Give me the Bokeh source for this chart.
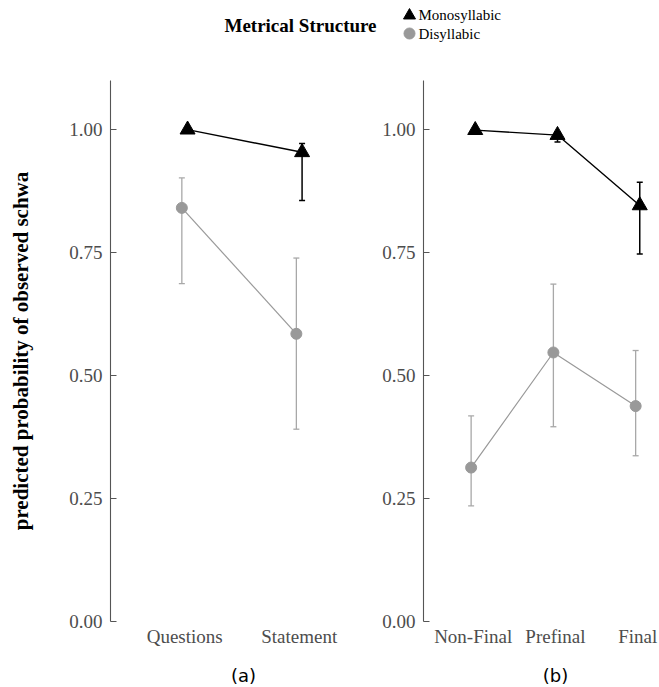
from bokeh.plotting import figure
from bokeh.layouts import column, row
from bokeh.models import Range1d, FixedTicker
from bokeh.core.properties import value
from bokeh.embed import file_html
from bokeh.resources import INLINE

# ---- data ----
a_categories = ["Questions", "Statement"]
a_mono = [1.000, 0.954]
a_mono_lo = [0.999, 0.856]
a_mono_hi = [1.000, 0.972]
a_dis = [0.841, 0.585]
a_dis_lo = [0.687, 0.391]
a_dis_hi = [0.902, 0.739]

b_categories = ["Non-Final", "Prefinal", "Final"]
b_mono = [0.999, 0.989, 0.846]
b_mono_lo = [0.998, 0.975, 0.747]
b_mono_hi = [1.000, 0.995, 0.893]
b_dis = [0.313, 0.547, 0.438]
b_dis_lo = [0.235, 0.396, 0.337]
b_dis_hi = [0.418, 0.686, 0.551]

y_ticks = [0.0, 0.25, 0.50, 0.75, 1.00]
y_tick_labels = ["0.00", "0.25", "0.50", "0.75", "1.00"]
series_names = ["Monosyllabic", "Disyllabic"]
legend_title = "Metrical Structure"
y_title = "predicted probability of observed schwa"
panel_tags = ["(a)", "(b)"]

SERIF = "Liberation Serif"
MONO_C = "black"
DIS_C = "#999999"
DIS_BAR = "#a8a8a8"
AX_C = "#555555"
LBL_C = "#4d4d4d"
DODGE = 0.025

W = 659
H = 687
TOP_H = 80
PANEL_H = 580
TAG_H = H - TOP_H - PANEL_H


def make_panel(cats, mono, mlo, mhi, dis, dlo, dhi, width, border_left,
               xstart, xend, ylabel):
    p = figure(width=width, height=PANEL_H, x_range=Range1d(xstart, xend),
               y_range=Range1d(0, 1.1), output_backend="svg",
               toolbar_location=None, min_border_left=border_left,
               min_border_right=0, min_border_top=0, min_border_bottom=39)
    p.grid.visible = False
    p.outline_line_color = None

    xs = list(range(1, len(cats) + 1))
    xm = [x + DODGE for x in xs]
    xd = [x - DODGE for x in xs]

    # disyllabic
    p.segment(x0=xd, y0=dlo, x1=xd, y1=dhi, line_color=DIS_BAR, line_width=1.3)
    p.scatter(x=xd + xd, y=dlo + dhi, marker="dash", size=6,
              line_color=DIS_BAR, line_width=1.3)
    p.line(x=xd, y=dis, line_color=DIS_C, line_width=1.2)
    p.scatter(x=xd, y=dis, marker="circle", size=11, fill_color=DIS_C,
              line_color=DIS_C)

    # monosyllabic
    p.segment(x0=xm, y0=mlo, x1=xm, y1=mhi, line_color=MONO_C, line_width=1.5)
    p.scatter(x=xm + xm, y=mlo + mhi, marker="dash", size=6,
              line_color=MONO_C, line_width=1.5)
    p.line(x=xm, y=mono, line_color=MONO_C, line_width=1.4)
    p.scatter(x=xm, y=mono, marker="triangle", size=15, fill_color=MONO_C,
              line_color=MONO_C)

    # x axis
    xa = p.xaxis[0]
    xa.ticker = FixedTicker(ticks=xs)
    xa.major_label_overrides = {x: c for x, c in zip(xs, cats)}
    xa.axis_line_color = None
    xa.major_tick_line_color = None
    xa.minor_tick_line_color = None
    xa.major_tick_out = 0
    xa.major_tick_in = 0
    xa.major_label_standoff = 4
    xa.major_label_text_font = SERIF
    xa.major_label_text_font_size = "19px"
    xa.major_label_text_color = LBL_C

    # y axis
    ya = p.yaxis[0]
    ya.ticker = FixedTicker(ticks=y_ticks)
    ya.major_label_overrides = {t: l for t, l in zip(y_ticks, y_tick_labels)}
    ya.axis_line_color = AX_C
    ya.axis_line_width = 1.1
    ya.major_tick_line_color = AX_C
    ya.major_tick_line_width = 1.1
    ya.minor_tick_line_color = None
    ya.major_tick_in = 6
    ya.major_tick_out = 0
    ya.major_label_standoff = 8
    ya.major_label_text_font = SERIF
    ya.major_label_text_font_size = "19px"
    ya.major_label_text_color = LBL_C
    if ylabel:
        ya.axis_label = ylabel
        ya.axis_label_text_font = SERIF
        ya.axis_label_text_font_style = "bold"
        ya.axis_label_text_font_size = "21px"
        ya.axis_label_text_color = "black"
        ya.axis_label_standoff = 33
    return p


pa = make_panel(a_categories, a_mono, a_mono_lo, a_mono_hi, a_dis, a_dis_lo,
                a_dis_hi, width=368, border_left=110, xstart=0.352,
                xend=2.605, ylabel=y_title)
pb = make_panel(b_categories, b_mono, b_mono_lo, b_mono_hi, b_dis, b_dis_lo,
                b_dis_hi, width=W - 368, border_left=55, xstart=0.396,
                xend=3.265, ylabel=None)


def strip(height, y0):
    f = figure(width=W, height=height, x_range=Range1d(0, W),
               y_range=Range1d(y0 + height, y0), output_backend="svg",
               toolbar_location=None, x_axis_location=None,
               y_axis_location=None, min_border=0)
    f.grid.visible = False
    f.outline_line_color = None
    return f


# legend strip
leg = strip(TOP_H, 0)
leg.text(x=[300], y=[25], text=[legend_title],
         text_font=value(SERIF), text_font_style="bold",
         text_font_size="19px", text_align="center", text_baseline="middle",
         text_color="black")
leg.scatter(x=[409], y=[15], marker="triangle", size=12,
            fill_color=MONO_C, line_color=MONO_C)
leg.scatter(x=[409], y=[33], marker="circle", size=11,
            fill_color=DIS_C, line_color=DIS_C)
leg.text(x=[418, 418], y=[14, 33], text=series_names,
         text_font=value(SERIF), text_font_size="15px",
         text_align="left", text_baseline="middle", text_color="black")

# panel tag strip
tags = strip(TAG_H, TOP_H + PANEL_H)
tags.text(x=[243, 555], y=[675, 675], text=panel_tags,
          text_font=value("DejaVu Sans"), text_font_size="18px",
          text_align="center", text_baseline="middle", text_color="black")

layout = column(leg, row(pa, pb), tags)
open("out.html", "w").write(file_html(layout, INLINE))
